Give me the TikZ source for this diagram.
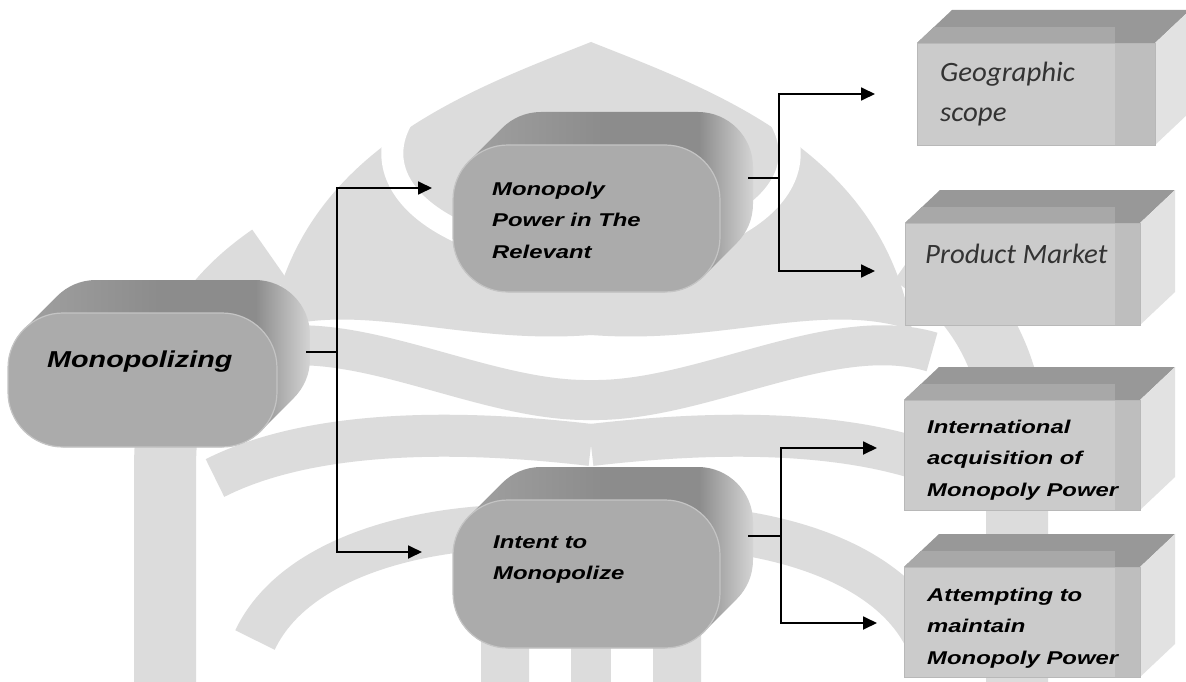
\documentclass[tikz,border=0pt]{standalone}
\usepackage{fontspec}
\newfontfamily\lsans{Liberation Sans}
\newfontfamily\calib{Carlito}
\usetikzlibrary{arrows.meta}
\definecolor{extA}{HTML}{A2A2A2}
\definecolor{extB}{HTML}{8C8C8C}
\definecolor{extC}{HTML}{D4D4D4}
\definecolor{faceC}{HTML}{ABABAB}
\definecolor{rimC}{HTML}{C4C4C4}
\definecolor{boxFront}{HTML}{CBCBCB}
\definecolor{boxBand}{HTML}{BEBEBE}
\definecolor{boxTop}{HTML}{989898}
\definecolor{boxTopL}{HTML}{A8A8A8}
\definecolor{boxSide}{HTML}{E2E2E2}
\definecolor{boxEdge}{HTML}{B8B8B8}
\definecolor{calText}{HTML}{333333}
\definecolor{wm}{HTML}{DCDCDC}
\pgfdeclarehorizontalshading{extshade}{100bp}{color(0bp)=(extA); color(25bp)=(extA); color(50bp)=(extB); color(66bp)=(extB); color(75bp)=(extC); color(100bp)=(extC)}
\tikzset{
  bigtxt/.style={font=\lsans\bfseries\itshape\fontsize{23}{28}\selectfont, inner sep=0pt, anchor=base west},
  midtxt/.style={font=\lsans\bfseries\itshape\fontsize{18.5}{31.5}\selectfont, inner sep=0pt, anchor=base west},
  caltxt/.style={font=\calib\itshape\fontsize{28}{40}\selectfont, text=calText, inner sep=0pt, anchor=base west},
  plainline/.style={line width=1.8pt, black},
  arrowline/.style={line width=1.8pt, black, -{Triangle[length=14pt,width=13pt]}},
  frontface/.style={fill=faceC, draw=rimC, line width=1.2pt, rounded corners=55pt},
  wmband/.style={draw=wm, line cap=butt},
  wmgap/.style={draw=white, line cap=butt},
}
% pill: x1,y1,x2,y2 of front face
\newcommand{\mypill}[4]{%
  \shade[shading=extshade, rounded corners=55pt]
    \foreach \i in {0,1,...,33} {(#1+\i,#2-\i) rectangle (#3+\i,#4-\i)};
  \path[frontface] (#1,#2) rectangle (#3,#4);
}
% box: x1,y1,x2,y2 of front face
\newcommand{\mybox}[4]{%
  \fill[boxTop] (#1,#2) -- (#1+35,#2-33) -- (#3+35,#2-33) -- (#3,#2) -- cycle;
  \begin{scope}
    \clip (#1,#2) -- (#1+35,#2-33) -- (#3+35,#2-33) -- (#3,#2) -- cycle;
    \fill[boxTopL] (#1,#2-16) rectangle (1115,#2);
  \end{scope}
  \fill[boxSide] (#3,#2) -- (#3+35,#2-33) -- (#3+35,#4-33) -- (#3,#4) -- cycle;
  \fill[boxFront] (#1,#2) rectangle (#3,#4);
  \fill[boxBand] (1115,#2) rectangle (#3,#4);
  \draw[boxEdge, line width=0.8pt] (#1,#2) rectangle (#3,#4);
}
% left half of the faint background emblem
\newcommand{\wmhalf}{%
  \fill[wm] (591,42) .. controls (470,90) and (300,150) .. (270,330)
     .. controls (360,300) and (460,345) .. (591,335) -- cycle;
  \draw[wmgap, line width=22pt] (418,98) .. controls (350,170) and (420,250) .. (591,262);
  \draw[wmband, line width=62pt] (165,682) -- (165,470) .. controls (165,360) and (205,300) .. (270,255);
  \draw[wmband, line width=40pt] (250,352) .. controls (350,322) and (480,402) .. (591,400);
  \draw[wmband, line width=42pt] (215,478) .. controls (320,425) and (480,432) .. (591,445);
  \draw[wmband, line width=44pt] (255,640) .. controls (300,545) and (460,515) .. (591,530);
  \draw[wmband, line width=48pt] (505,682) -- (505,585) .. controls (505,560) and (520,545) .. (545,540);
  \draw[wmband, line width=40pt] (591,682) -- (591,560);
}
\begin{document}
\begin{tikzpicture}[x=1pt,y=-1pt]
\useasboundingbox (0,0) rectangle (1186,682);
\clip (0,0) rectangle (1186,682);
\fill[white] (0,0) rectangle (1186,682);

% faint background emblem
\wmhalf
\begin{scope}[xshift=1182pt, xscale=-1]
  \wmhalf
\end{scope}

% pills
\mypill{8}{313}{277}{447}
\mypill{453}{145}{720}{292}
\mypill{453}{500}{720}{648}

% boxes
\mybox{917}{43}{1155}{145}
\mybox{905}{223}{1140}{325}
\mybox{904}{400}{1140}{510}
\mybox{904}{567}{1140}{677}

% texts
\node[bigtxt] (mono) at (47,367) {\scalebox{1.25}[1]{Monopolizing}};
\node[midtxt] (power) at (492,195) {\scalebox{1.29}[1]{\begin{tabular}[t]{@{}l@{}}Monopoly\\Power in The\\Relevant\end{tabular}}};
\node[midtxt] (intent) at (493,548) {\scalebox{1.29}[1]{\begin{tabular}[t]{@{}l@{}}Intent to\\Monopolize\end{tabular}}};
\node[caltxt] (geo) at (940,82) {\scalebox{1.03}[1]{\begin{tabular}[t]{@{}l@{}}Geographic\\scope\end{tabular}}};
\node[caltxt] (prod) at (925,263) {\scalebox{1.03}[1]{Product Market}};
\node[midtxt] (intl) at (927,433) {\scalebox{1.29}[1]{\begin{tabular}[t]{@{}l@{}}International\\acquisition of\\Monopoly Power\end{tabular}}};
\node[midtxt] (att) at (927,601) {\scalebox{1.29}[1]{\begin{tabular}[t]{@{}l@{}}Attempting to\\maintain\\Monopoly Power\end{tabular}}};

% connector ports
\coordinate (mono-out) at (306,352);
\coordinate (hub1) at (337,352);
\coordinate (power-in) at (432,188);
\coordinate (intent-in) at (422,552);
\coordinate (power-out) at (748,178);
\coordinate (hub2) at (779,178);
\coordinate (geo-in) at (875,94);
\coordinate (prod-in) at (875,271);
\coordinate (intent-out) at (748,536);
\coordinate (hub3) at (781,536);
\coordinate (intl-in) at (877,448);
\coordinate (att-in) at (877,623);

\draw[plainline] (mono-out) -- (hub1);
\draw[arrowline] (hub1) |- (power-in);
\draw[arrowline] (hub1) |- (intent-in);
\draw[plainline] (power-out) -- (hub2);
\draw[arrowline] (hub2) |- (geo-in);
\draw[arrowline] (hub2) |- (prod-in);
\draw[plainline] (intent-out) -- (hub3);
\draw[arrowline] (hub3) |- (intl-in);
\draw[arrowline] (hub3) |- (att-in);
\end{tikzpicture}
\end{document}
